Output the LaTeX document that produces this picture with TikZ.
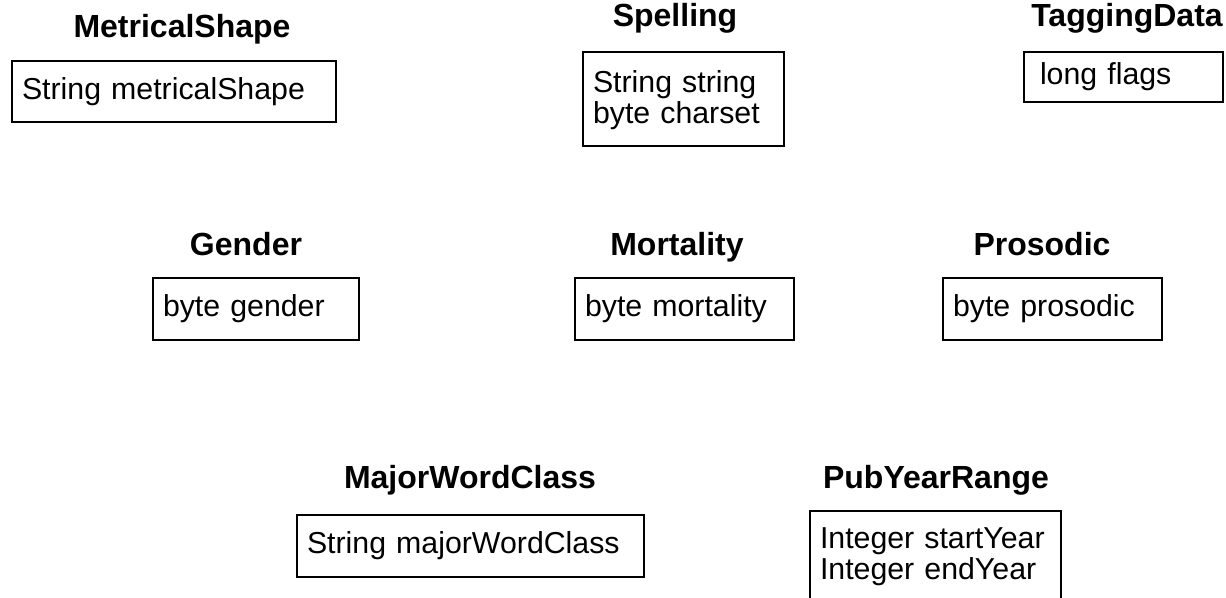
\documentclass[tikz,border=0pt]{standalone}
\usepackage{fontspec}
\setmainfont{Liberation Sans}
\usepackage{tikz}

\begin{document}
\begin{tikzpicture}[
    x=1pt,y=-1pt,
    title/.style={anchor=base, font=\fontsize{32}{34}\selectfont\bfseries},
    field/.style={draw, line width=2.2pt, inner xsep=10pt, align=left, font=\fontsize{30.3}{31}\selectfont}
    ]
    \useasboundingbox (0, 0) rectangle (1226, 597);
    % top row
    \node[title] (metricaltitle) at (182, 37) {MetricalShape};
    \node[field, text width=304pt, minimum height=61pt] (metricalbox) at (174, 91.5) {String metricalShape};
    \node[title] (spellingtitle) at (675, 27) {Spelling};
    \node[field, text width=181pt, inner ysep=18pt, text depth=36pt, anchor=north] (spellingbox) at (683.5, 51) {String string\\byte charset};
    \node[title] (taggingtitle) at (1127, 27) {TaggingData};
    \node[field, inner xsep=16pt, text width=167pt, minimum height=50pt] (taggingbox) at (1123.5, 77) {long flags};
    % middle row
    \node[title] (gendertitle) at (246, 255) {Gender};
    \node[field, text width=186pt, minimum height=62pt] (genderbox) at (256, 309) {byte gender};
    \node[title] (mortalitytitle) at (677, 255) {Mortality};
    \node[field, text width=199pt, minimum height=62pt] (mortalitybox) at (684.5, 309) {byte mortality};
    \node[title] (prosodictitle) at (1042, 255) {Prosodic};
    \node[field, text width=199pt, minimum height=62pt] (prosodicbox) at (1052.5, 309) {byte prosodic};
    % bottom row
    \node[title] (wordclasstitle) at (470, 488) {MajorWordClass};
    \node[field, text width=327pt, minimum height=62pt] (wordclassbox) at (470.5, 546) {String majorWordClass};
    \node[title] (pubyeartitle) at (936, 488) {PubYearRange};
    \node[field, text width=231pt, inner ysep=17pt, text depth=60pt, anchor=north] (pubyearbox) at (935.5, 510) {Integer startYear\\Integer endYear};
  \end{tikzpicture}
\end{document}
